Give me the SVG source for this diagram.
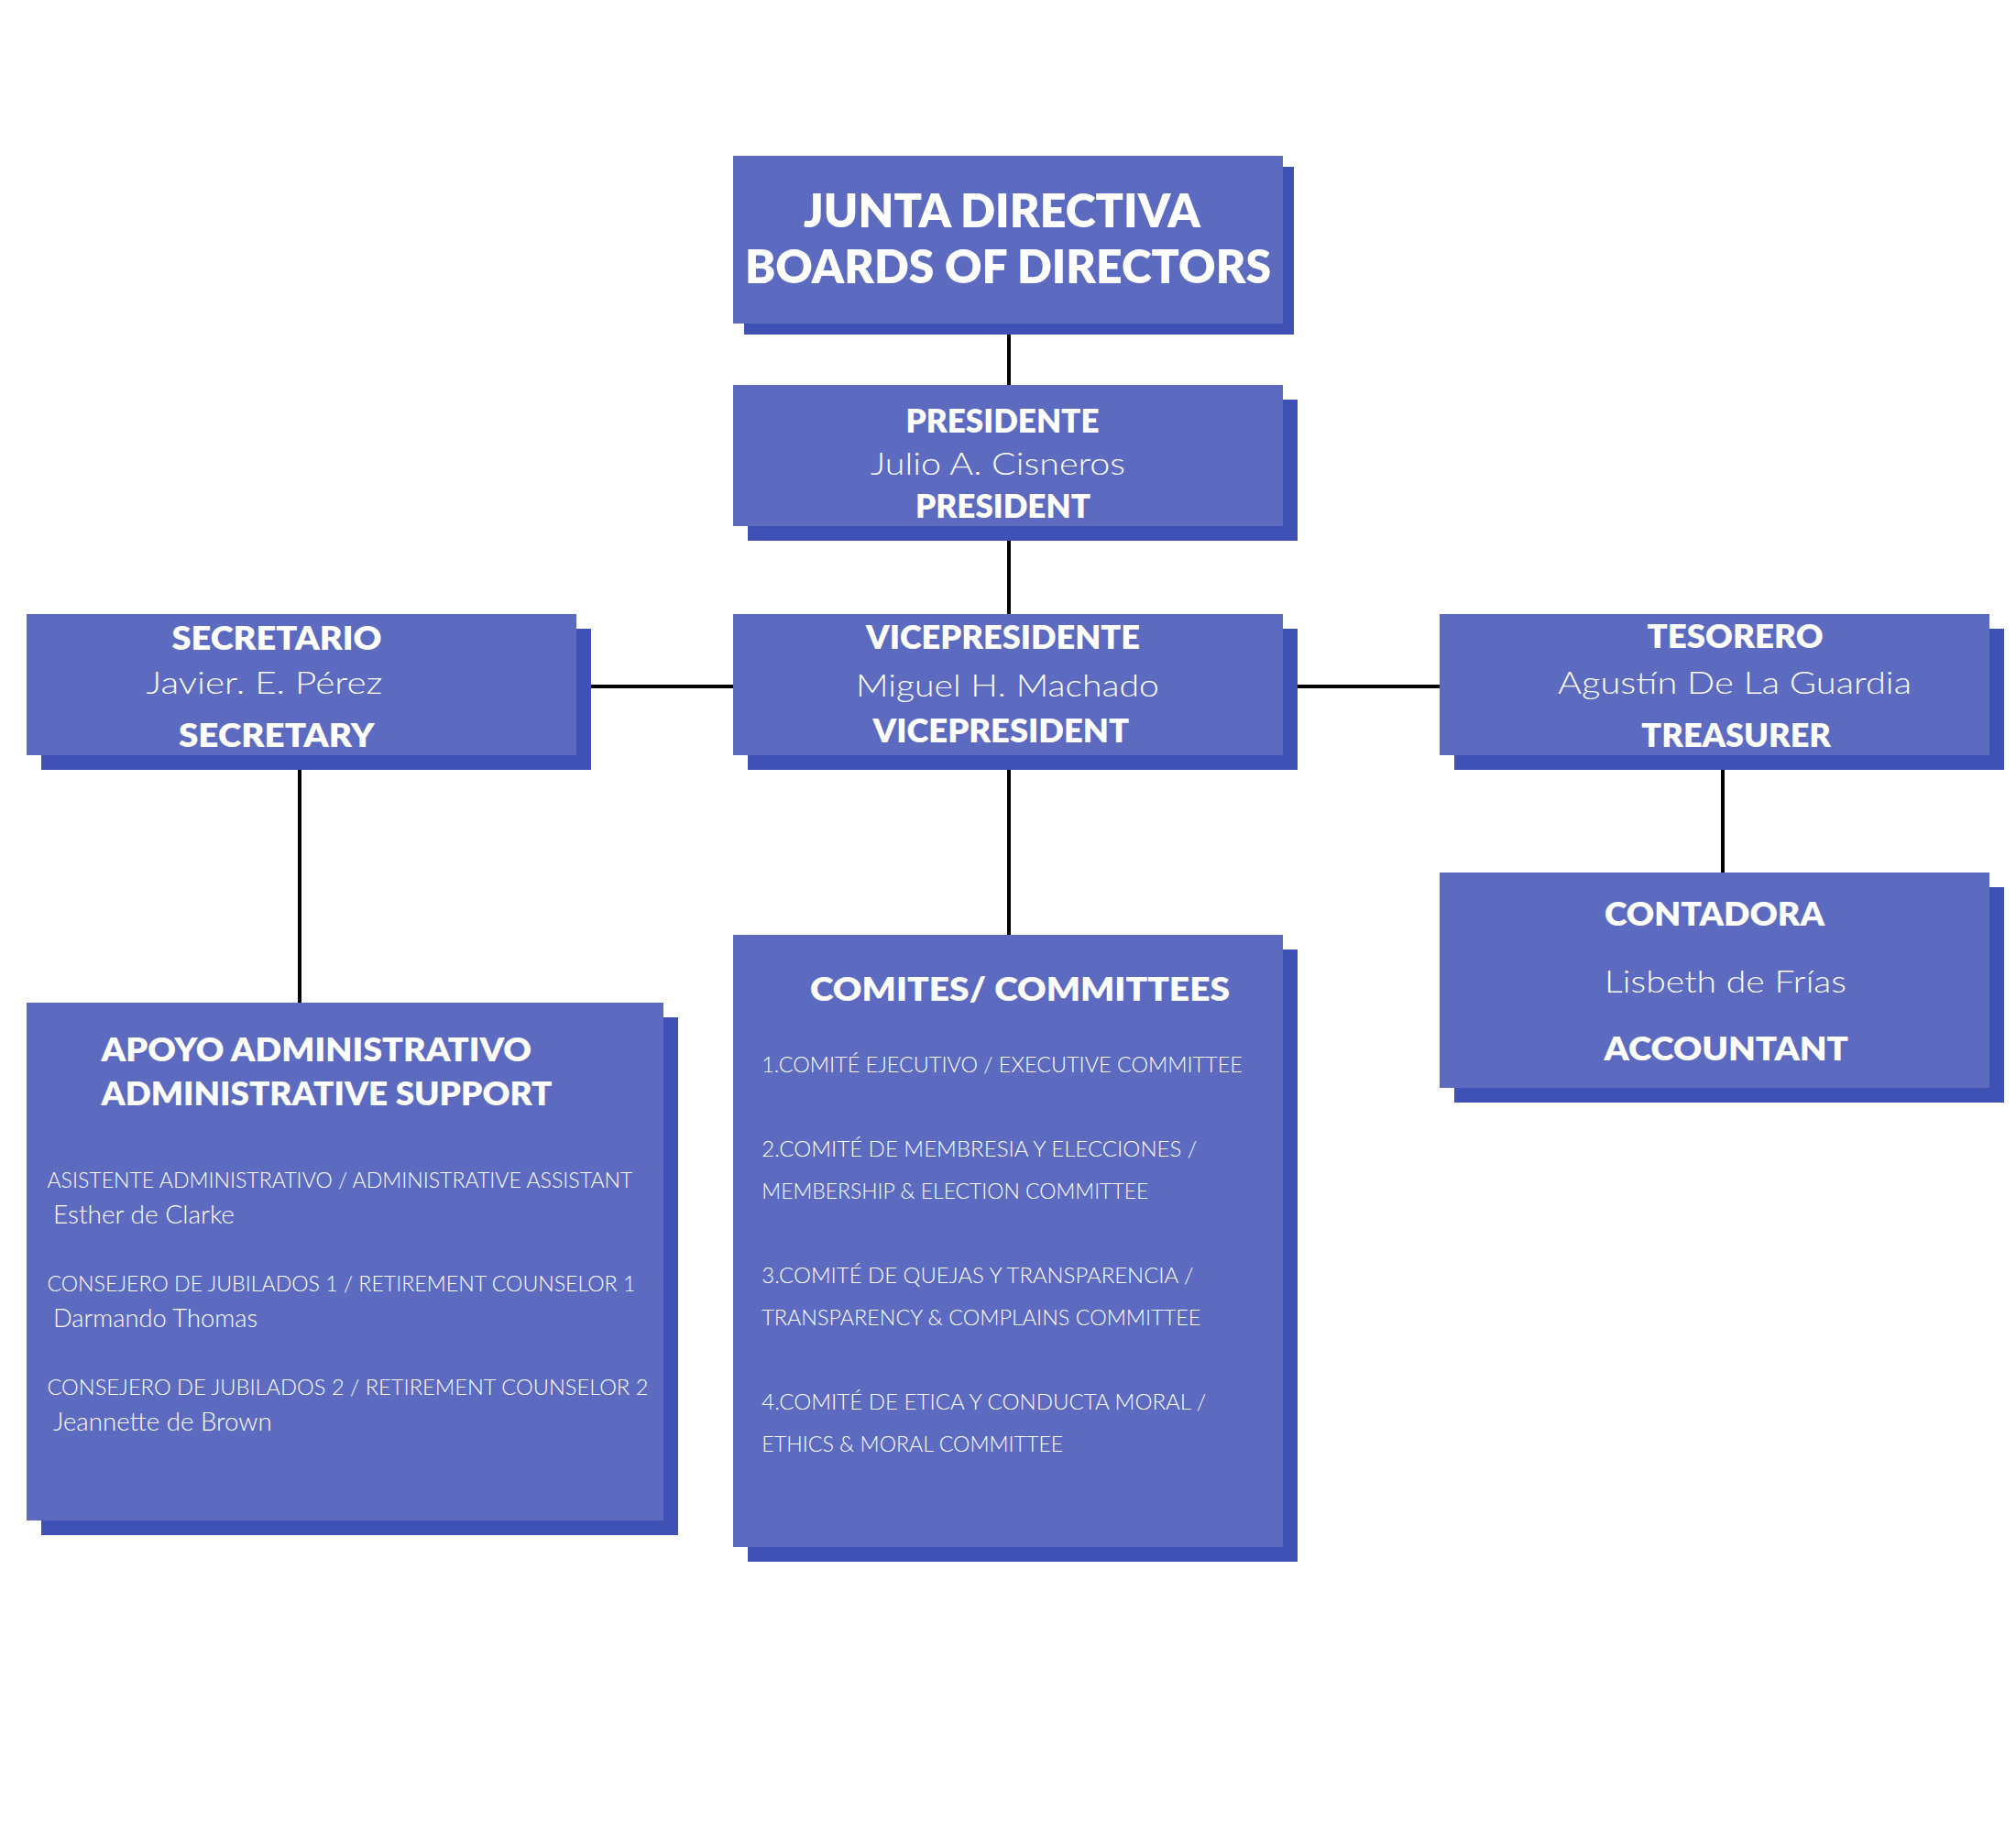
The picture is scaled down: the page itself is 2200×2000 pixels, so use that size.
<svg xmlns="http://www.w3.org/2000/svg" width="2200" height="2000" viewBox="0 0 2200 2000">
<style>
.box{fill:#5C6BC0}
.sh{fill:#3F51B5}
.conn{stroke:#000;stroke-width:4;fill:none}
text{fill:#fff;font-family:Lato,"Open Sans","Liberation Sans",sans-serif}
.h{font-weight:800;font-size:35px}
.ht{font-weight:800;font-size:51px}
.n{font-weight:300;font-size:34px}
.i{font-weight:300;font-size:24px}
.nm{font-weight:300;font-size:27px}
</style>
<rect width="2200" height="2000" fill="#fff"/>
<g id="connectors">
<line class="conn" x1="1101" y1="353" x2="1101" y2="420"/>
<line class="conn" x1="1101" y1="573" x2="1101" y2="670"/>
<line class="conn" x1="629" y1="749" x2="800" y2="749"/>
<line class="conn" x1="1400" y1="749" x2="1571" y2="749"/>
<line class="conn" x1="1101" y1="823" x2="1101" y2="1020"/>
<line class="conn" x1="327" y1="824" x2="327" y2="1094"/>
<line class="conn" x1="1880" y1="824" x2="1880" y2="952"/>
</g>
<g id="junta">
<rect class="sh" x="812" y="182" width="600" height="183"/>
<rect class="box" x="800" y="170" width="600" height="183"/>
<text class="ht" x="877" y="248" textLength="433" lengthAdjust="spacingAndGlyphs">JUNTA DIRECTIVA</text>
<text class="ht" x="813" y="309" textLength="574" lengthAdjust="spacingAndGlyphs">BOARDS OF DIRECTORS</text>
</g>
<g id="presidente">
<rect class="sh" x="816" y="436" width="600" height="154"/>
<rect class="box" x="800" y="420" width="600" height="154"/>
<text class="h" x="988.5" y="472" textLength="211" lengthAdjust="spacingAndGlyphs">PRESIDENTE</text>
<text class="n" x="950" y="518" textLength="278" lengthAdjust="spacingAndGlyphs">Julio A. Cisneros</text>
<text class="h" x="999" y="565" textLength="191" lengthAdjust="spacingAndGlyphs">PRESIDENT</text>
</g>
<g id="vicepresidente">
<rect class="sh" x="816" y="686" width="600" height="154"/>
<rect class="box" x="800" y="670" width="600" height="154"/>
<text class="h" x="945" y="708" textLength="299" lengthAdjust="spacingAndGlyphs">VICEPRESIDENTE</text>
<text class="n" x="934" y="760" textLength="331" lengthAdjust="spacingAndGlyphs">Miguel H. Machado</text>
<text class="h" x="952.5" y="810" textLength="279.5" lengthAdjust="spacingAndGlyphs">VICEPRESIDENT</text>
</g>
<g id="secretario">
<rect class="sh" x="45" y="686" width="600" height="154"/>
<rect class="box" x="29" y="670" width="600" height="154"/>
<text class="h" x="187.5" y="709" textLength="229" lengthAdjust="spacingAndGlyphs">SECRETARIO</text>
<text class="n" x="159.5" y="757" textLength="258" lengthAdjust="spacingAndGlyphs">Javier. E. Pérez</text>
<text class="h" x="195" y="815" textLength="213.5" lengthAdjust="spacingAndGlyphs">SECRETARY</text>
</g>
<g id="tesorero">
<rect class="sh" x="1587" y="686" width="600" height="154"/>
<rect class="box" x="1571" y="670" width="600" height="154"/>
<text class="h" x="1797.5" y="707" textLength="192" lengthAdjust="spacingAndGlyphs">TESORERO</text>
<text class="n" x="1700" y="757" textLength="386" lengthAdjust="spacingAndGlyphs">Agustín De La Guardia</text>
<text class="h" x="1791.3" y="815" textLength="206.7" lengthAdjust="spacingAndGlyphs">TREASURER</text>
</g>
<g id="contadora">
<rect class="sh" x="1587" y="968" width="600" height="235"/>
<rect class="box" x="1571" y="952" width="600" height="235"/>
<text class="h" x="1751" y="1010" textLength="240" lengthAdjust="spacingAndGlyphs">CONTADORA</text>
<text class="n" x="1751" y="1083" font-size="38" textLength="264" lengthAdjust="spacingAndGlyphs">Lisbeth de Frías</text>
<text class="h" x="1750.5" y="1157" textLength="266.5" lengthAdjust="spacingAndGlyphs">ACCOUNTANT</text>
</g>
<g id="apoyo">
<rect class="sh" x="45" y="1110" width="695" height="565"/>
<rect class="box" x="29" y="1094" width="695" height="565"/>
<text class="h" x="110.5" y="1158" textLength="469.5" lengthAdjust="spacingAndGlyphs">APOYO ADMINISTRATIVO</text>
<text class="h" x="110.5" y="1206" textLength="492" lengthAdjust="spacingAndGlyphs">ADMINISTRATIVE SUPPORT</text>
<text class="i" x="51.4" y="1296" textLength="639" lengthAdjust="spacingAndGlyphs">ASISTENTE ADMINISTRATIVO / ADMINISTRATIVE ASSISTANT</text>
<text class="nm" x="58" y="1335" textLength="198" lengthAdjust="spacingAndGlyphs">Esther de Clarke</text>
<text class="i" x="51.4" y="1409" textLength="642" lengthAdjust="spacingAndGlyphs">CONSEJERO DE JUBILADOS 1 / RETIREMENT COUNSELOR 1</text>
<text class="nm" x="58" y="1448" textLength="223" lengthAdjust="spacingAndGlyphs">Darmando Thomas</text>
<text class="i" x="51.4" y="1522" textLength="656" lengthAdjust="spacingAndGlyphs">CONSEJERO DE JUBILADOS 2 / RETIREMENT COUNSELOR 2</text>
<text class="nm" x="58" y="1561" textLength="238.7" lengthAdjust="spacingAndGlyphs">Jeannette de Brown</text>
</g>
<g id="comites">
<rect class="sh" x="816" y="1036" width="600" height="668"/>
<rect class="box" x="800" y="1020" width="600" height="668"/>
<text class="h" x="884" y="1092" font-size="37" textLength="458" lengthAdjust="spacingAndGlyphs">COMITES/ COMMITTEES</text>
<text class="i" x="831.3" y="1170" textLength="524.5" lengthAdjust="spacingAndGlyphs">1.COMITÉ EJECUTIVO / EXECUTIVE COMMITTEE</text>
<text class="i" x="831.3" y="1262" textLength="475" lengthAdjust="spacingAndGlyphs">2.COMITÉ DE MEMBRESIA Y ELECCIONES /</text>
<text class="i" x="831.3" y="1308" textLength="422" lengthAdjust="spacingAndGlyphs">MEMBERSHIP &amp; ELECTION COMMITTEE</text>
<text class="i" x="831.3" y="1400" textLength="471" lengthAdjust="spacingAndGlyphs">3.COMITÉ DE QUEJAS Y TRANSPARENCIA /</text>
<text class="i" x="831.3" y="1446" textLength="479" lengthAdjust="spacingAndGlyphs">TRANSPARENCY &amp; COMPLAINS COMMITTEE</text>
<text class="i" x="831.3" y="1538" textLength="485" lengthAdjust="spacingAndGlyphs">4.COMITÉ DE ETICA Y CONDUCTA MORAL /</text>
<text class="i" x="831.3" y="1584" textLength="329" lengthAdjust="spacingAndGlyphs">ETHICS &amp; MORAL COMMITTEE</text>
</g>
</svg>
